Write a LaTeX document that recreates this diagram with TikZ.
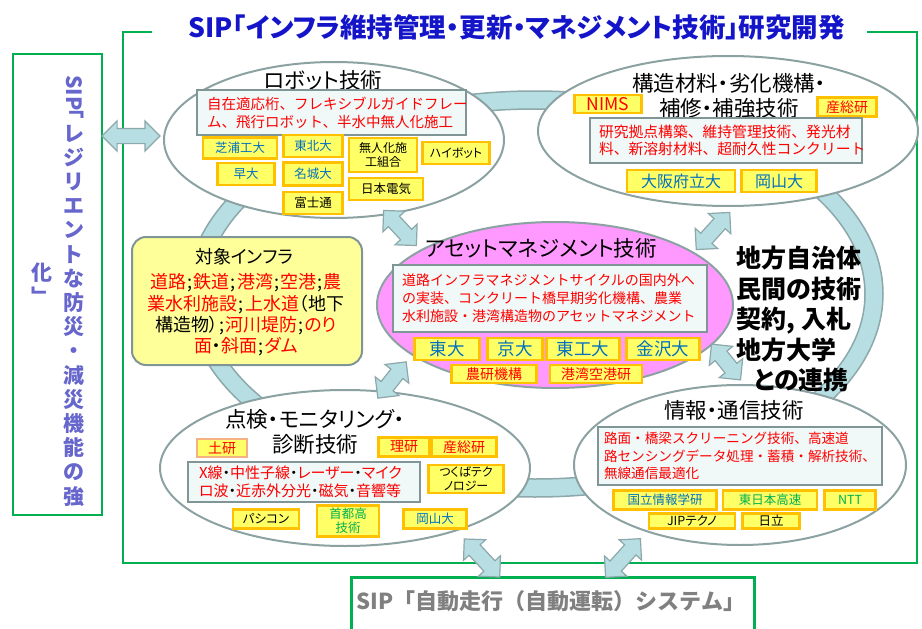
\documentclass[tikz,border=0pt]{standalone}
\usepackage{fontspec}
\usepackage{graphicx}
\setmainfont{Noto Sans CJK JP}[RawFeature=+palt]
\newfontfamily\jpm{Noto Sans CJK JP}
\usetikzlibrary{shapes.geometric,shapes.arrows}
\definecolor{ringfill}{RGB}{183,222,226}
\definecolor{ringline}{RGB}{140,168,170}
\definecolor{ellline}{RGB}{140,162,162}
\definecolor{pinkfill}{RGB}{255,153,255}
\definecolor{yfill}{RGB}{255,255,102}
\definecolor{yline}{RGB}{255,192,0}
\definecolor{ylight}{RGB}{244,177,131}
\definecolor{infrafill}{RGB}{255,255,153}
\definecolor{tfill}{RGB}{240,248,248}
\definecolor{tline}{RGB}{128,150,150}
\definecolor{jred}{RGB}{255,0,0}
\definecolor{jblue}{RGB}{0,112,192}
\definecolor{jgreen}{RGB}{0,176,80}
\definecolor{titleblue}{RGB}{20,20,200}
\definecolor{vpurple}{RGB}{102,102,204}
\definecolor{sgrey}{RGB}{128,128,128}
\definecolor{framegreen}{RGB}{0,176,80}
\newcommand\fTitle{\fontsize{26.5}{28}\selectfont\bfseries}
\newcommand\fT{\fontsize{21.5}{25}\selectfont}
\newcommand\fB{\jpm\fontsize{14.5}{18}\selectfont}
\newcommand\fM{\jpm\fontsize{14.8}{17.5}\selectfont}
\newcommand\fP{\jpm\fontsize{14}{18}\selectfont}
\newcommand\fQ{\jpm\fontsize{13.6}{17.5}\selectfont}
\newcommand\fK{\fontsize{15}{17.5}\selectfont}
\newcommand\fA{\fontsize{12.5}{14}\selectfont}
\newcommand\fS{\fontsize{12}{14}\selectfont}
\newcommand\fC{\fontsize{14}{16}\selectfont}
\newcommand\fD{\fontsize{16}{18}\selectfont}
\newcommand\fE{\fontsize{17.5}{20}\selectfont}
\newcommand\fI{\fontsize{18}{21.3}\selectfont}
\newcommand\fR{\fontsize{25}{30.5}\selectfont\bfseries}
\newcommand\fV{\fontsize{21}{24.2}\selectfont\bfseries}
\newcommand\fBot{\jpm\fontsize{22}{26}\selectfont\bfseries}
\newcommand\sm{\textcolor{black}{\kern1pt;\kern1pt}}
\newcommand\kd{\textcolor{black}{・}}
\tikzset{
  ell/.style={ellipse, draw=ellline, line width=2pt, fill=white, inner sep=0pt},
  tbox/.style={rectangle, draw=tline, line width=2.2pt, fill=tfill, inner sep=0pt, text=jred, align=left},
  ybox/.style={rectangle, draw=yline, line width=2.2pt, fill=yfill, inner sep=0pt, align=center},
  darr/.style={double arrow, draw=ringline, line width=1.2pt, fill=ringfill, inner sep=0pt, inner ysep=7pt, double arrow head extend=7.5pt, minimum height=#1pt},
}
\newcommand\yb[8]{\node[ybox,minimum width=#4pt,minimum height=#5pt,text=#6,font=#7] (#1) at (#2,#3) {#8};}
\begin{document}
\begin{tikzpicture}[x=1pt,y=-1pt]
\useasboundingbox (0,0) rectangle (922,629);
% ring
\fill[ringfill, even odd rule] (535,294) ellipse [x radius=348pt, y radius=203pt] (535,294) ellipse [x radius=330pt, y radius=185pt];
\draw[ringline, line width=1.5pt] (535,294) ellipse [x radius=348pt, y radius=203pt] (535,294) ellipse [x radius=330pt, y radius=185pt];
% title
\node[font=\fTitle, text=titleblue] (title) at (516.5,27) {SIP「インフラ維持管理・更新・マネジメント技術」研究開発};
% frame
\draw[framegreen, line width=2.5pt] (152,32) -- (123,32) -- (123,563) -- (917,563) -- (917,32) -- (867,32);
% left box
\node[draw=framegreen, line width=2.5pt, fill=white, minimum width=89pt, minimum height=461pt, inner sep=0pt] (leftbox) at (57.5,284.5) {};
\node[font=\fV, text=vpurple, align=center, anchor=north] (vcolA) at (74,72) {\rotatebox{-90}{SIP}\\﹁\\レ\\ジ\\リ\\エ\\ン\\ト\\な\\防\\災\\・\\減\\災\\機\\能\\の\\強};
\node[font=\fV, text=vpurple, align=center] (vcolB) at (42,284) {化\\﹂};
% bottom box
\node[draw=framegreen, line width=2.5pt, fill=white, minimum width=403pt, minimum height=70pt, inner sep=0pt, anchor=north west] (botbox) at (350,576) {};
\node[font=\fBot, text=sgrey] (botT) at (551,601) {SIP「自動走行（自動運転）システム」};
% robot
\node[ell, minimum width=340pt, minimum height=156pt] (robot) at (334,140) {};
\node[font=\fT] (robotT) at (323,80) {ロボット技術};
\node[tbox, font=\fB, minimum width=269pt, minimum height=45pt, text width=249pt] (robotX) at (331.5,112.5) {自在適応桁、フレキシブルガイドフレー\\ム、飛行ロボット、半水中無人化施工};
\yb{shibaura}{240}{148}{74}{21}{jblue}{\fA}{芝浦工大}
\yb{waseda}{246}{174}{57}{22}{jblue}{\fA}{早大}
\yb{tohoku}{313}{146}{59}{22}{jblue}{\fA}{東北大}
\yb{meijo}{313}{174}{59}{23}{jblue}{\fA}{名城大}
\yb{fujitsu}{313}{203}{59}{22}{black}{\fA}{富士通}
\yb{mujin}{383}{155}{68}{34}{black}{\fS}{無人化施\\工組合}
\yb{nec}{386}{189}{74}{22}{black}{\fA}{日本電気}
\yb{hibot}{456}{153}{67}{22}{black}{\fS}{ハイボット}
% structure
\node[ell, minimum width=380pt, minimum height=150pt] (struct) at (728,131) {};
\node[font=\fT, align=center] (structT) at (729,96) {構造材料・劣化機構・\\補修・補強技術};
\yb{nims}{608}{104}{67}{18}{jred}{\fE}{NIMS}
\yb{aistA}{847}{107}{59}{19}{jred}{\fC}{産総研}
\node[tbox, font=\fM, minimum width=272pt, minimum height=45pt, text width=254pt] (structX) at (726,140.5) {研究拠点構築、維持管理技術、発光材\\料、新溶射材料、超耐久性コンクリート};
\yb{opu}{681}{181}{108}{22}{jblue}{\fD}{大阪府立大}
\yb{okayamaA}{779}{181}{75}{22}{jblue}{\fD}{岡山大}
% asset management
\node[ell, fill=pinkfill, minimum width=356pt, minimum height=166pt] (am) at (555,305) {};
\node[font=\fT] (amT) at (541,248) {アセットマネジメント技術};
\node[tbox, font=\fP, minimum width=314pt, minimum height=67pt, text width=296pt] (amX) at (550,298.5) {道路インフラマネジメントサイクルの国内外へ\\の実装、コンクリート橋早期劣化機構、農業\\水利施設・港湾構造物のアセットマネジメント};
\yb{todai}{447}{349}{65}{22}{jblue}{\fE}{東大}
\yb{kyodai}{515}{349}{55}{22}{jblue}{\fE}{京大}
\yb{titech}{583}{349}{73}{22}{jblue}{\fE}{東工大}
\yb{kanazawa}{663}{349}{73}{22}{jblue}{\fE}{金沢大}
\yb{naro}{494}{374}{85}{18}{jred}{\fC}{農研機構}
\yb{pari}{596}{374}{92}{18}{jred}{\fC}{港湾空港研}
% inspection
\node[ell, minimum width=370pt, minimum height=156pt] (insp) at (345,468) {};
\node[font=\fT, align=center] (inspT) at (315,432) {点検・モニタリング・\\診断技術};
\node[ybox, draw=ylight, minimum width=50pt, minimum height=18pt, text=jred, font=\fC] (pwri) at (222,448) {土研};
\yb{riken}{404}{447}{51}{19}{jred}{\fC}{理研}
\yb{aistB}{464}{447}{65}{19}{jred}{\fC}{産総研}
\node[tbox, font=\fK, minimum width=232pt, minimum height=40pt, text width=210pt] (inspX) at (304,482) {X線\kd 中性子線\kd レーザー\kd マイク\\ロ波\kd 近赤外分光\kd 磁気\kd 音響等};
\yb{tsukuba}{466}{479}{75}{28}{black}{\fS}{つくばテク\\ノロジー}
\yb{pasco}{266}{519}{66}{19}{black}{\fA}{パシコン}
\yb{shutoko}{348}{521}{62}{31}{jgreen}{\fA}{首都高\\技術}
\yb{okayamaB}{435}{519}{63}{19}{jblue}{\fA}{岡山大}
% ict
\node[ell, minimum width=332pt, minimum height=160pt] (ict) at (740,465) {};
\node[font=\fT] (ictT) at (734,410) {情報・通信技術};
\node[tbox, font=\fQ, minimum width=284pt, minimum height=58pt, text width=272pt] (ictX) at (740,456) {路面・橋梁スクリーニング技術、高速道\\路センシングデータ処理・蓄積・解析技術、\\無線通信最適化};
\yb{nii}{665}{500}{103}{19}{jblue}{\fA}{国立情報学研}
\yb{nexco}{770}{500}{94}{19}{jgreen}{\fA}{東日本高速}
\yb{ntt}{850}{500}{51}{19}{jgreen}{\fA}{NTT}
\yb{jip}{692}{521}{86}{15}{black}{\fA}{JIPテクノ}
\yb{hitachi}{771}{521}{57}{15}{black}{\fA}{日立}
% infra
\node[draw=tline, line width=2pt, fill=infrafill, rounded corners=14pt, minimum width=230pt, minimum height=128pt, inner sep=0pt] (infra) at (247,301) {};
\node[font=\fI] (infraT) at (244,257) {対象インフラ};
\node[font=\fI, align=center, text=jred] (infraX) at (246,315) {道路\sm 鉄道\sm 港湾\sm 空港\sm 農\\業水利施設\sm 上水道\textcolor{black}{（地下}\\\textcolor{black}{構造物）}\sm 河川堤防\sm のり\\面\kd 斜面\sm ダム};
% right text
\node[font=\fR, align=left, anchor=west] (local) at (733,319) {地方自治体\\民間の技術\\契約, 入札\\地方大学\\\hspace*{17pt}との連携};
% double arrows
\node[darr=58] (aL) at (131,136) {};
\node[darr=48, rotate=-47] (aRA) at (400,228) {};
\node[darr=50, rotate=48] (aSA) at (713,231) {};
\node[darr=46, rotate=52] (aAI) at (392,380) {};
\node[darr=46, rotate=-51] (aAC) at (726,362) {};
\node[darr=52, rotate=-47] (aBL) at (482,558) {};
\node[darr=52, rotate=48] (aBR) at (623,558) {};
\end{tikzpicture}
\end{document}
